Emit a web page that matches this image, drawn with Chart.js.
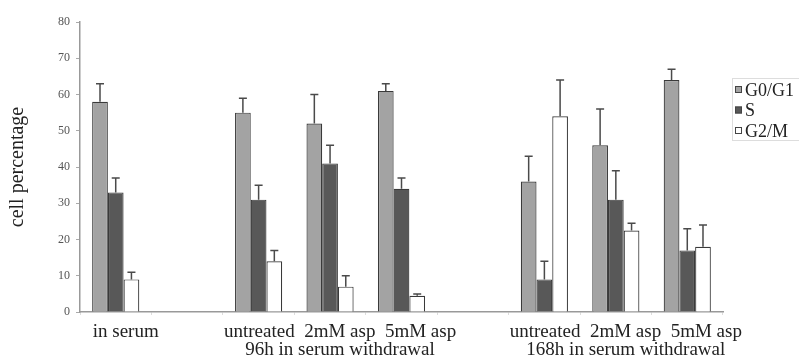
<!DOCTYPE html>
<html>
<head>
<meta charset="utf-8">
<script src="https://cdn.jsdelivr.net/npm/chart.js@4.4.1/dist/chart.umd.min.js"></script>
<style>
  html, body { margin: 0; padding: 0; background: #fff; }
  #wrap { width: 799px; height: 362px; position: relative; }
</style>
</head>
<body>
<div id="wrap"><canvas id="cellChart"></canvas></div>
<script>
// categories (empty slots are the gaps between the groups)
const categories = [
    'in serum', 'gap1',
    '96h untreated', '96h 2mM asp', '96h 5mM asp', 'gap2',
    '168h untreated', '168h 2mM asp', '168h 5mM asp'
];
// text printed under the axis (group captions sit on the middle slot)
const tickLabels = [
    'in serum', '',
    '', ['untreated  2mM asp  5mM asp', '96h in serum withdrawal'], '', '',
    '', ['untreated  2mM asp  5mM asp', '168h in serum withdrawal'], ''
];
const seriesNames = ['G0/G1', 'S', 'G2/M'];

const g0g1 = [58, null, 55, 52, 61, null, 36, 46, 64];
const sPhase = [33, null, 31, 41, 34, null, 9, 31, 17];
const g2m = [9, null, 14, 7, 4.5, null, 54, 22.5, 18];

// top of the error bars
const g0g1Err = [63, null, 59, 60, 63, null, 43, 56, 67];
const sPhaseErr = [37, null, 35, 46, 37, null, 14, 39, 23];
const g2mErr = [11, null, 17, 10, 5, null, 64, 24.5, 24];

const yTicks = [0, 10, 20, 30, 40, 50, 60, 70, 80];

const fillColors = ['#a3a3a3', '#585858', '#ffffff'];
const serif = "'Liberation Serif', 'DejaVu Serif', serif";

const errorBars = {
    id: 'errorBars',
    afterDatasetsDraw(chart) {
        const ctx = chart.ctx;
        const yScale = chart.scales.y;
        const errs = [g0g1Err, sPhaseErr, g2mErr];
        ctx.save();
        ctx.strokeStyle = '#4a4a4a';
        ctx.lineWidth = 1.5;
        chart.data.datasets.forEach((ds, di) => {
            const meta = chart.getDatasetMeta(di);
            meta.data.forEach((bar, i) => {
                const top = errs[di][i];
                if (top == null || ds.data[i] == null) return;
                const yTop = yScale.getPixelForValue(top);
                ctx.beginPath();
                ctx.moveTo(bar.x, bar.y);
                ctx.lineTo(bar.x, yTop);
                ctx.moveTo(bar.x - 4, yTop);
                ctx.lineTo(bar.x + 4, yTop);
                ctx.stroke();
            });
        });
        ctx.restore();
    }
};

const sideLegend = {
    id: 'sideLegend',
    afterDraw(chart) {
        const ctx = chart.ctx;
        ctx.save();
        ctx.strokeStyle = '#dddddd';
        ctx.lineWidth = 1;
        ctx.strokeRect(732.5, 78.5, 70, 62);
        ctx.font = '18px ' + serif;
        ctx.textBaseline = 'middle';
        seriesNames.forEach((name, i) => {
            const y = 90 + i * 20.5;
            ctx.fillStyle = fillColors[i];
            ctx.fillRect(735, y - 4, 7, 7);
            ctx.strokeStyle = '#444';
            ctx.strokeRect(735.5, y - 3.5, 6, 6);
            ctx.fillStyle = '#222';
            ctx.fillText(name, 745, y + 1);
        });
        ctx.restore();
    }
};

document.addEventListener('DOMContentLoaded', function() {
    const canvas = document.getElementById('cellChart');
    const seriesData = [g0g1, sPhase, g2m];

    new Chart(canvas, {
        type: 'bar',
        data: {
            labels: categories,
            datasets: seriesNames.map((name, i) => ({
                label: name,
                data: seriesData[i],
                backgroundColor: fillColors[i],
                borderColor: '#3a3a3a',
                borderWidth: 1.2,
                borderSkipped: 'bottom',
                categoryPercentage: 0.66,
                barPercentage: 1.0
            }))
        },
        options: {
            responsive: true,
            maintainAspectRatio: false,
            animation: false,
            layout: {
                padding: { top: 22, right: 76, left: 0, bottom: 0 }
            },
            plugins: {
                legend: { display: false },
                tooltip: { enabled: false }
            },
            scales: {
                x: {
                    grid: {
                        drawOnChartArea: false,
                        tickLength: 3,
                        color: '#dddddd'
                    },
                    border: { color: '#999999', width: 1.5 },
                    ticks: {
                        autoSkip: false,
                        minRotation: 0,
                        maxRotation: 0,
                        padding: 8,
                        labelOffset: 10,
                        color: '#222',
                        font: { family: serif, size: 19, lineHeight: 0.95 },
                        callback: function(value, index) { return tickLabels[index]; }
                    },
                    afterFit: function(scale) { scale.height = 50; }
                },
                y: {
                    min: 0,
                    max: 80,
                    afterBuildTicks: function(scale) {
                        scale.ticks = yTicks.map(v => ({ value: v }));
                    },
                    grid: {
                        drawOnChartArea: false,
                        tickLength: 4,
                        color: '#aaaaaa'
                    },
                    border: { color: '#999999', width: 1.5 },
                    ticks: {
                        padding: 6,
                        color: '#555',
                        font: { family: serif, size: 12 }
                    },
                    title: {
                        display: true,
                        text: 'cell percentage',
                        color: '#222',
                        font: { family: serif, size: 20 },
                        padding: { top: 6, bottom: 0 }
                    },
                    afterFit: function(scale) { scale.width = 80; }
                }
            }
        },
        plugins: [errorBars, sideLegend]
    });
});
</script>
</body>
</html>
